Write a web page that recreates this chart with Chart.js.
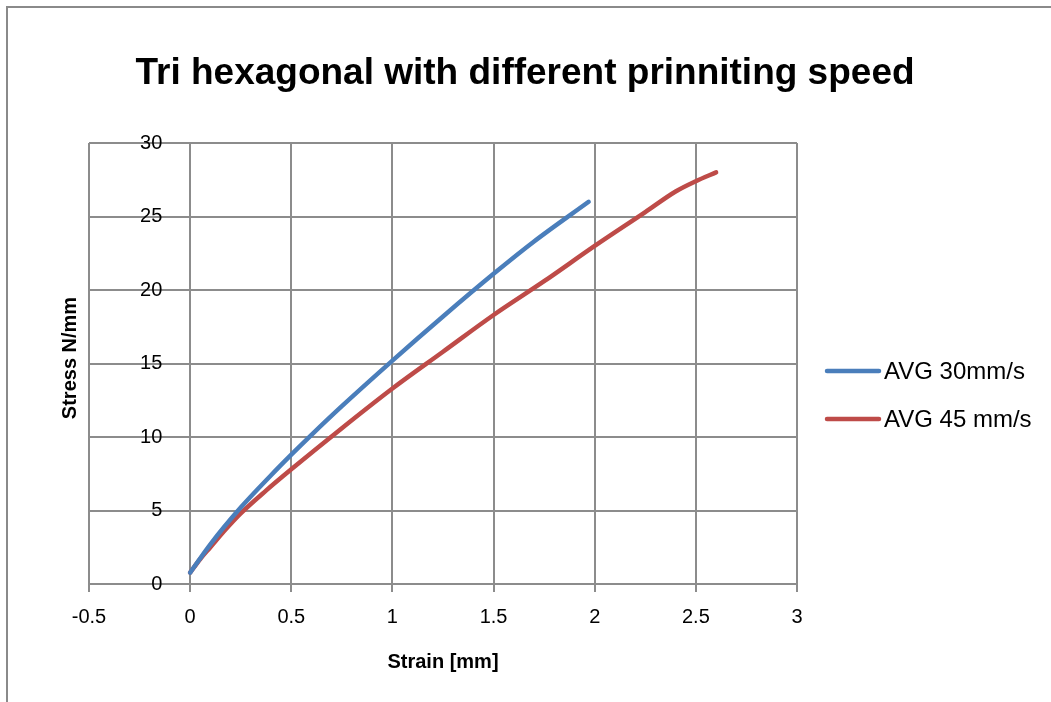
<!DOCTYPE html>
<html>
<head>
<meta charset="utf-8">
<script src="https://cdn.jsdelivr.net/npm/chart.js@4.4.0/dist/chart.umd.min.js"></script>
<style>
  body { margin: 0; overflow: hidden; background: #fff; }
  #frame { position: absolute; left: 6px; top: 6px; width: 2000px; height: 2000px; border: 2px solid #8a8a8a; }
  #mycanvas { position: absolute; left: 0; top: 0; }
</style>
</head>
<body>
<div id="frame"></div>
<canvas id="mycanvas" width="1051" height="702"></canvas>
<script>
var chartTitle = 'Tri hexagonal with different prinniting speed';
var xTitle = 'Strain [mm]';
var yTitle = 'Stress N/mm';

var seriesNames = ['AVG 30mm/s', 'AVG 45 mm/s'];
var seriesColors = ['#4a7ebb', '#be4b48'];

// strain / stress values
var strain30 = [0, 0.1, 0.25, 0.4, 0.5, 0.6, 0.75, 1.0, 1.25, 1.5, 1.7, 1.97];
var stress30 = [0.77, 2.7, 5.2, 7.4, 8.8, 10.15, 12.1, 15.2, 18.2, 21.1, 23.3, 26.0];

var strain45 = [0, 0.05, 0.1, 0.175, 0.25, 0.375, 0.5, 0.75, 1.0, 1.25, 1.5, 1.75, 2.0, 2.25, 2.4, 2.5, 2.6];
var stress45 = [0.77, 1.7, 2.5, 3.7, 4.8, 6.35, 7.8, 10.6, 13.3, 15.8, 18.3, 20.6, 23.0, 25.3, 26.7, 27.4, 28.0];

var xMin = -0.5, xMax = 3, xStep = 0.5;
var yMin = 0, yMax = 30, yStep = 5;

function toPoints(xs, ys) {
	var pts = [];
	for (var i = 0; i < xs.length; i++) {
		pts.push({x: xs[i], y: ys[i]});
	}
	return pts;
}

var gridColor = '#8c8c8c';
var tickFont = {family: 'Liberation Sans', size: 20};
var titleFont = {family: 'Liberation Sans', size: 20, weight: 'bold'};

// chart title, y axis title and legend drawn by hand so they sit where the original has them
var extras = {
	id: 'extras',
	afterDraw: function(chart) {
		var ctx = chart.ctx;
		ctx.save();
		ctx.fillStyle = '#000';
		ctx.font = 'bold 37px "Liberation Sans"';
		ctx.textAlign = 'center';
		ctx.textBaseline = 'middle';
		ctx.fillText(chartTitle, 525, 74);
		ctx.restore();

		ctx.save();
		ctx.fillStyle = '#000';
		ctx.font = 'bold 20px "Liberation Sans"';
		ctx.textAlign = 'center';
		ctx.textBaseline = 'middle';
		ctx.translate(70, 358);
		ctx.rotate(-Math.PI / 2);
		ctx.fillText(yTitle, 0, 0);
		ctx.restore();

		ctx.save();
		ctx.font = '24px "Liberation Sans"';
		ctx.textAlign = 'left';
		ctx.textBaseline = 'middle';
		chart.data.datasets.forEach(function(ds, i) {
			var y = 371 + i * 48;
			ctx.strokeStyle = ds.borderColor;
			ctx.lineWidth = 4.5;
			ctx.lineCap = 'round';
			ctx.beginPath();
			ctx.moveTo(827, y);
			ctx.lineTo(879, y);
			ctx.stroke();
			ctx.fillStyle = '#000';
			ctx.fillText(ds.label, 884, y + 1);
		});
		ctx.restore();
	}
};

var ctx = document.getElementById('mycanvas');

var chart = new Chart(ctx, {
	type: 'line',
	data: {
		datasets: [
			{
				label: seriesNames[0],
				data: toPoints(strain30, stress30),
				borderColor: seriesColors[0],
				backgroundColor: seriesColors[0],
				borderWidth: 4.5,
				borderCapStyle: 'round',
				pointRadius: 0,
				cubicInterpolationMode: 'monotone',
				fill: false
			},
			{
				label: seriesNames[1],
				data: toPoints(strain45, stress45),
				borderColor: seriesColors[1],
				backgroundColor: seriesColors[1],
				borderWidth: 4.5,
				borderCapStyle: 'round',
				pointRadius: 0,
				cubicInterpolationMode: 'monotone',
				fill: false
			}
		]
	},
	options: {
		responsive: false,
		animation: false,
		layout: {padding: {left: 89, right: 254, top: 143, bottom: 24}},
		plugins: {
			legend: {display: false},
			tooltip: {enabled: false},
			title: {display: false}
		},
		scales: {
			x: {
				type: 'linear',
				position: 'bottom',
				min: xMin,
				max: xMax,
				ticks: {
					stepSize: xStep, color: '#000', font: tickFont, padding: 13, maxRotation: 0,
					callback: function(v) { return String(Math.round(v * 10) / 10); }
				},
				grid: {color: gridColor, lineWidth: 2, tickLength: 8},
				border: {color: gridColor, width: 2},
				title: {display: true, text: xTitle, color: '#000', font: titleFont, padding: {top: 8, bottom: 4}}
			},
			y: {
				type: 'linear',
				position: {x: 0},
				min: yMin,
				max: yMax,
				ticks: {
					stepSize: yStep, color: '#000', font: tickFont,
					// labels sit on the crossing axis, pad them off it with figure spaces
					callback: function(v) { return v + '\u2007\u2007 '; }
				},
				grid: {color: gridColor, lineWidth: 2, tickLength: 8},
				border: {color: gridColor, width: 2}
			}
		}
	},
	plugins: [extras]
});
</script>
</body>
</html>
